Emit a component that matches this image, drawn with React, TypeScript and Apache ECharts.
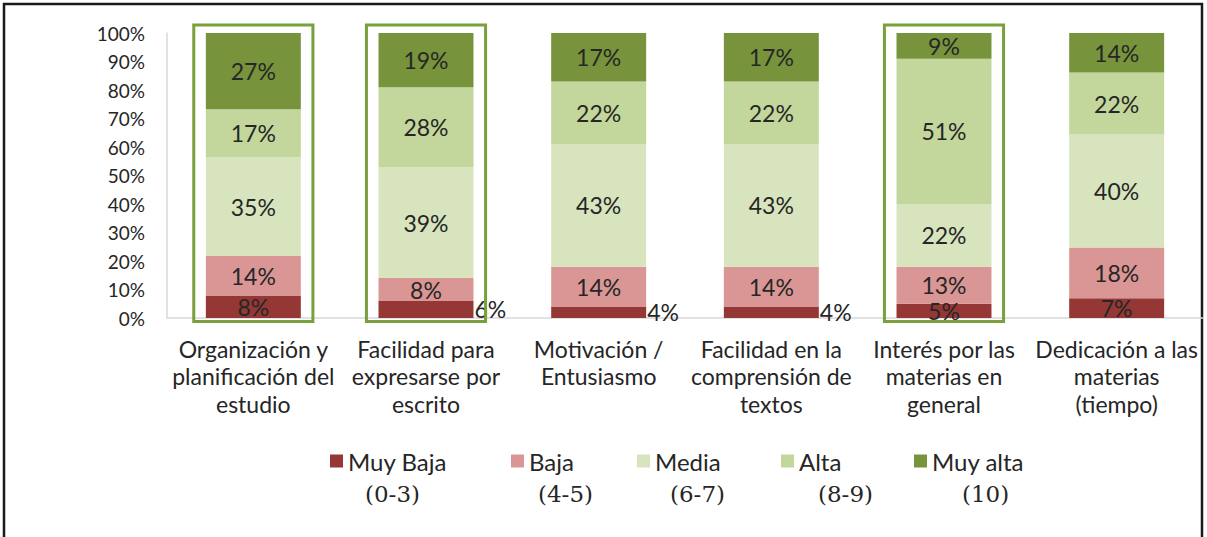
import React, { useEffect, useRef } from "react";
import * as echarts from "echarts";

// ---- data ----
const categories = [
  "Organización y\nplanificación del\nestudio",
  "Facilidad para\nexpresarse por\nescrito",
  "Motivación /\nEntusiasmo",
  "Facilidad en la\ncomprensión de\ntextos",
  "Interés por las\nmaterias en\ngeneral",
  "Dedicación a las\nmaterias\n(tiempo)",
];
const seriesNames = ["Muy Baja", "Baja", "Media", "Alta", "Muy alta"];
const rangeLabels = ["(0-3)", "(4-5)", "(6-7)", "(8-9)", "(10)"];
const muyBaja = [8, 6, 4, 4, 5, 7];
const baja = [14, 8, 14, 14, 13, 18];
const media = [35, 39, 43, 43, 22, 40];
const alta = [17, 28, 22, 22, 51, 22];
const muyAlta = [27, 19, 17, 17, 9, 14];
const highlightedCategories = [0, 1, 4];
const muyBajaLabelOutside = [false, true, true, true, false, false];

// ---- styles / layout ----
const colors = ["#953735", "#d99694", "#d7e4bd", "#c3d69b", "#77933c"];
const frameColor = "#78a03c";
const FONT = "Lato";
const SERIF = "DejaVu Serif";
const TEXT = "#262626";
const legendLeft = [330, 511, 637, 781, 914];
const rangeX = [365, 538, 670, 818, 962];

const values = [muyBaja, baja, media, alta, muyAlta];
const colSums = categories.map((_, i) => values.reduce((s, arr) => s + arr[i], 0));

export default function App() {
  const ref = useRef<HTMLDivElement>(null);
  useEffect(() => {
    if (!ref.current) return;
    const chart = echarts.init(ref.current, undefined, { renderer: "svg" });

    const barSeries = values.map((arr, si) => ({
      name: seriesNames[si],
      type: "bar",
      stack: "total",
      barWidth: "55%",
      itemStyle: { color: colors[si] },
      label: {
        show: true,
        position: "inside",
        fontFamily: FONT,
        fontSize: 23,
        color: TEXT,
        formatter: (p: any) => values[p.seriesIndex][p.dataIndex] + "%",
      },
      data: arr.map((v, ci) => {
        const item: any = { value: (v / colSums[ci]) * 100 };
        if (si === 0 && muyBajaLabelOutside[ci]) {
          item.label = { position: "right", distance: 1 };
        }
        return item;
      }),
    }));

    const frameSeries = {
      type: "custom",
      name: "frames",
      silent: true,
      clip: false,
      z: 5,
      renderItem: (params: any, api: any) => {
        const idx = api.value(0);
        const top = api.coord([idx, 100]);
        const bottom = api.coord([idx, 0]);
        const catW = api.size([1, 0])[0];
        const half = catW * 0.345;
        return {
          type: "rect",
          shape: {
            x: top[0] - half,
            y: top[1] - 8,
            width: half * 2,
            height: bottom[1] - top[1] + 11.5,
          },
          style: { fill: "none", stroke: frameColor, lineWidth: 3 },
        };
      },
      data: highlightedCategories.map((c) => [c]),
      encode: { x: 0 },
    };

    chart.setOption({
      animation: false,
      grid: { left: 167, right: 4, top: 33, bottom: 219, containLabel: false },
      xAxis: {
        type: "category",
        data: categories,
        axisLine: { lineStyle: { color: "#d9d9d9", width: 1.5 } },
        axisTick: { show: false },
        axisLabel: {
          interval: 0,
          margin: 17,
          fontFamily: FONT,
          fontSize: 23,
          lineHeight: 27.5,
          color: TEXT,
        },
      },
      yAxis: {
        type: "value",
        min: 0,
        max: 100,
        interval: 10,
        axisLine: { show: true, lineStyle: { color: "#d9d9d9", width: 1.5 } },
        axisTick: { show: false },
        splitLine: { show: false },
        axisLabel: {
          formatter: "{value}%",
          margin: 22,
          fontFamily: FONT,
          fontSize: 19,
          color: TEXT,
        },
      },
      legend: seriesNames.map((n, i) => ({
        data: [n],
        left: legendLeft[i],
        top: 448,
        padding: 0,
        icon: "rect",
        itemWidth: 13,
        itemHeight: 13,
        selectedMode: false,
        textStyle: { fontFamily: FONT, fontSize: 24, lineHeight: 26, color: TEXT },
      })),
      graphic: [
        {
          type: "rect",
          silent: true,
          shape: { x: 4, y: 4, width: 1198, height: 600 },
          style: { fill: "none", stroke: "#1a1a1a", lineWidth: 2.5 },
        },
        ...rangeLabels.map((t, i) => ({
          type: "text",
          silent: true,
          x: rangeX[i],
          y: 494,
          style: {
            text: t,
            fontFamily: SERIF,
            fontSize: 23,
            fill: TEXT,
            verticalAlign: "middle",
          },
        })),
      ],
      series: [...barSeries, frameSeries],
    });
    return () => chart.dispose();
  }, []);
  return (
    <div
      ref={ref}
      style={{ position: "absolute", left: 0, top: 0, width: 1207, height: 537, background: "#fff" }}
    />
  );
}
